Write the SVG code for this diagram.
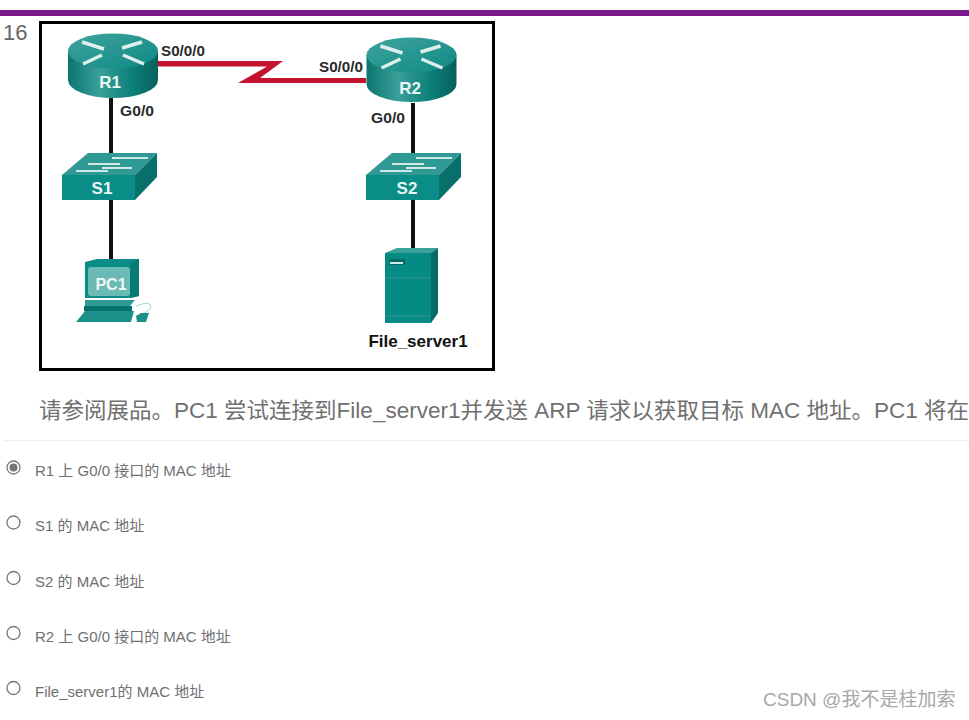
<svg xmlns="http://www.w3.org/2000/svg" width="969" height="720" viewBox="0 0 969 720">
<style>
text{font-family:"Liberation Sans","Noto Sans CJK SC",sans-serif}
.opt{font-size:15px;fill:#707070}
.lbl{font-size:15.500px;font-weight:bold;fill:#2a2a2a}
.dev{font-size:17px;font-weight:bold;fill:#e8f6f4;text-anchor:middle}
.link{stroke:#111;stroke-width:4;fill:none}
.arr{stroke:#dcefec;stroke-width:3.500;fill:none}
.radio{fill:#fff;stroke:#777;stroke-width:1.3}
</style>
<defs>
<linearGradient id="rb" x1="0" x2="1" y1="0" y2="0"><stop offset="0" stop-color="#0b7570"/><stop offset=".35" stop-color="#3a9f99"/><stop offset=".7" stop-color="#0d807a"/><stop offset="1" stop-color="#07605c"/></linearGradient>
<linearGradient id="rt" x1="0" x2="1" y1="0" y2="1"><stop offset="0" stop-color="#3fa39d"/><stop offset="1" stop-color="#0f8a84"/></linearGradient>
<g id="router">
<path d="M-45 17V46A45 18 0 0 0 45 46V17Z" fill="url(#rb)"/>
<ellipse cx="0" cy="17" rx="45" ry="17.500" fill="url(#rt)"/>
<path d="M-31 8L-9 15M-11 21L-30 30M9 14L29 8M10 21L31 30" class="arr"/>
</g>
<g id="switch">
<path d="M26 0H95L73 22H0Z" fill="#2f9a93"/>
<path d="M0 22H73V47H0Z" fill="#0a8d86"/>
<path d="M73 22L95 0V24L73 47Z" fill="#086f6a"/>
<path d="M50 5H86M26 11H58M40 15H70M14 18H46" stroke="#cfe9e5" stroke-width="1.800" fill="none"/>
</g>
</defs>
<rect width="969" height="720" fill="#fff"/>
<rect x="0" y="10" width="969" height="6" fill="#7b1a8b"/>
<text x="3" y="40" font-size="22" fill="#666">16</text>
<rect x="40.500" y="22.500" width="453" height="347" fill="#fff" stroke="#000" stroke-width="3"/>

<g id="connectors">
<path class="link" d="M111 98V155M111 198V260M413 103V155M413 198V250"/>
<path id="serial" d="M157 61H283L260 78H366V83H238L267 66.500H157Z" fill="#c4122f"/>
</g>

<g id="R1"><use href="#router" x="113" y="34"/><text class="dev" x="110" y="88">R1</text></g>
<g id="R2"><use href="#router" x="411.500" y="38"/><text class="dev" x="410" y="94">R2</text></g>
<g id="S1"><use href="#switch" x="62" y="153"/><text class="dev" x="102" y="194">S1</text></g>
<g id="S2"><use href="#switch" x="366" y="153"/><text class="dev" x="407" y="194">S2</text></g>

<g id="PC1">
<path d="M85 262L97 259H139V296L130 298H85Z" fill="#0a8d86"/>
<path d="M130 263L139 259V296L130 298Z" fill="#077a74"/>
<rect x="88" y="267" width="42" height="29" rx="3" fill="#6cbab5"/>
<path d="M85 300H135L130 306H85Z" fill="#2d9a93"/>
<path d="M84 306H132V311H84Z" fill="#06716c"/>
<path d="M85 311H134L131 322H76Z" fill="#1b9088"/>
<path d="M136 316L137 322H146L149 313H141Z" fill="#1b9088"/>
<path d="M136 306Q151 300 151 307Q150 311 144 313" fill="none" stroke="#9ed4cf" stroke-width="1"/>
<text x="111" y="290" font-size="16" font-weight="bold" fill="#eef9f7" text-anchor="middle">PC1</text>
</g>

<g id="File_server1">
<path d="M385 253L397 248H438L431 253Z" fill="#3aa29b"/>
<rect x="385" y="253" width="46" height="70" fill="#068a84"/>
<path d="M431 253L438 248V313L431 323Z" fill="#066b67"/>
<path d="M385 278H431M385 316H431" stroke="#2d9a93" stroke-width="1"/>
<rect x="389" y="259" width="16" height="6" fill="#066b67"/>
<rect x="390" y="262" width="13" height="2" fill="#cfe9e5"/>
<text x="418" y="347" font-size="17" font-weight="bold" fill="#111" text-anchor="middle">File_server1</text>
</g>

<text class="lbl" x="161" y="56" textLength="44" lengthAdjust="spacingAndGlyphs">S0/0/0</text>
<text class="lbl" x="319" y="72" textLength="44" lengthAdjust="spacingAndGlyphs">S0/0/0</text>
<text class="lbl" x="120" y="116" textLength="34" lengthAdjust="spacingAndGlyphs">G0/0</text>
<text class="lbl" x="371" y="123" textLength="34" lengthAdjust="spacingAndGlyphs">G0/0</text>

<text x="39" y="418" font-size="22" fill="#707070" textLength="930" lengthAdjust="spacingAndGlyphs">请参阅展品。PC1 尝试连接到File_server1并发送 ARP 请求以获取目标 MAC 地址。PC1 将在</text>
<rect x="3" y="440" width="966" height="1" fill="#eee"/>

<g id="options">
<circle class="radio" cx="13.500" cy="467.500" r="6.500"/><circle cx="13.500" cy="467.500" r="4" fill="#777"/>
<circle class="radio" cx="13.500" cy="522.500" r="6.500"/>
<circle class="radio" cx="13.500" cy="578" r="6.500"/>
<circle class="radio" cx="13.500" cy="633" r="6.500"/>
<circle class="radio" cx="13.500" cy="688" r="6.500"/>
<text class="opt" x="35" y="476">R1 上 G0/0 接口的 MAC 地址</text>
<text class="opt" x="35" y="531">S1 的 MAC 地址</text>
<text class="opt" x="35" y="587">S2 的 MAC 地址</text>
<text class="opt" x="35" y="642">R2 上 G0/0 接口的 MAC 地址</text>
<text class="opt" x="35" y="697">File_server1的 MAC 地址</text>
</g>
<text x="763" y="706" font-size="19" fill="#a8a8a8">CSDN @我不是桂加索</text>
</svg>
